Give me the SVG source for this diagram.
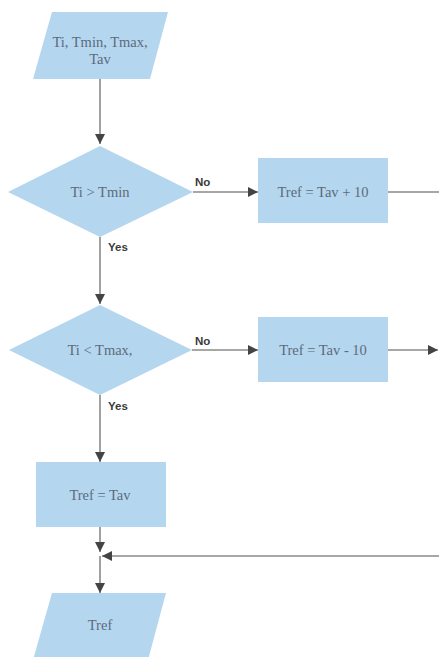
<svg xmlns="http://www.w3.org/2000/svg" width="439" height="657" viewBox="0 0 439 657">
  <style>
    .shape { fill: #b5d6ef; stroke: none; }
    .txt { font-family: "Liberation Serif", "Times New Roman", serif; font-size: 14.5px; fill: #5b6b7b; text-anchor: middle; }
    .lbl { font-family: "Liberation Sans", Arial, sans-serif; font-size: 11.5px; font-weight: bold; fill: #3a3a3a; }
    .edge { fill: none; stroke: #8a8a8a; stroke-width: 1.6; }
  </style>
  <defs>
    <marker id="arrow" viewBox="0 0 10 10" refX="10" refY="5" markerWidth="10" markerHeight="10" markerUnits="userSpaceOnUse" orient="auto">
      <path d="M0,0 L10,5 L0,10 Z" fill="#444444"/>
    </marker>
  </defs>
  <rect width="439" height="657" fill="#ffffff"/>

  <g id="connectors">
    <path class="edge" d="M100,79 V144" marker-end="url(#arrow)"/>
    <path class="edge" d="M193,192 H258" marker-end="url(#arrow)"/>
    <path class="edge" d="M388,192 H440"/>
    <path class="edge" d="M100,237 V304" marker-end="url(#arrow)"/>
    <path class="edge" d="M192,350 H258" marker-end="url(#arrow)"/>
    <path class="edge" d="M388,350 H438" marker-end="url(#arrow)"/>
    <path class="edge" d="M100,395 V462" marker-end="url(#arrow)"/>
    <path class="edge" d="M100,527 V552" marker-end="url(#arrow)"/>
    <path class="edge" d="M440,556 H102" marker-end="url(#arrow)"/>
    <path class="edge" d="M100,556 V593" marker-end="url(#arrow)"/>
    <text class="lbl" x="195" y="186">No</text>
    <text class="lbl" x="108" y="251">Yes</text>
    <text class="lbl" x="195" y="345">No</text>
    <text class="lbl" x="108" y="410">Yes</text>
  </g>

  <g id="input">
    <polygon class="shape" points="52,12 168,12 150,79 33,79"/>
    <text class="txt" x="100" y="47">Ti, Tmin, Tmax,</text>
    <text class="txt" x="100" y="64">Tav</text>
  </g>

  <g id="check-min">
    <polygon class="shape" points="100,146 193,192 100,237 8,192"/>
    <text class="txt" x="100" y="197">Ti &gt; Tmin</text>
  </g>

  <g id="raise">
    <rect class="shape" x="258" y="158" width="130" height="65"/>
    <text class="txt" x="323" y="197">Tref = Tav + 10</text>
  </g>

  <g id="check-max">
    <polygon class="shape" points="100,305 192,350 100,395 9,350"/>
    <text class="txt" x="100" y="355">Ti &lt; Tmax,</text>
  </g>

  <g id="lower">
    <rect class="shape" x="258" y="317" width="130" height="65"/>
    <text class="txt" x="323" y="355">Tref = Tav - 10</text>
  </g>

  <g id="keep">
    <rect class="shape" x="36" y="462" width="130" height="65"/>
    <text class="txt" x="100" y="500">Tref = Tav</text>
  </g>

  <g id="output">
    <polygon class="shape" points="52,593 166,593 148,660 33,660"/>
    <text class="txt" x="100" y="630">Tref</text>
  </g>
</svg>
